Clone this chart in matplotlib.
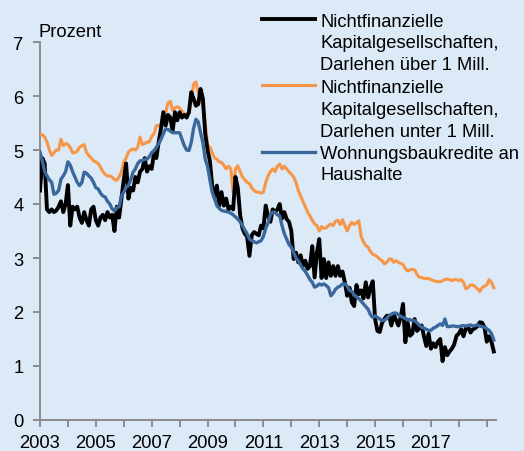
import numpy as np
import pandas as pd
import matplotlib
matplotlib.use("Agg")
import matplotlib.pyplot as plt
from matplotlib.lines import Line2D

plt.rcParams['font.family'] = ['Liberation Sans', 'DejaVu Sans']

start = '2003-01-01'
n_months = 196

black_over_1m = [
    4.25, 4.85, 4.75, 3.90, 3.85, 3.90, 3.85, 3.88, 3.95, 4.05, 3.85, 4.00,  # 2003
    4.35, 3.60, 3.95, 3.90, 3.95, 3.75, 3.65, 3.85, 3.70, 3.60, 3.90, 3.95,  # 2004
    3.70, 3.60, 3.75, 3.80, 3.70, 3.85, 3.75, 3.80, 3.50, 3.95, 3.75, 4.10,  # 2005
    4.45, 4.75, 4.10, 4.30, 4.25, 4.50, 4.40, 4.60, 4.65, 4.85, 4.60, 4.70,  # 2006
    4.65, 4.95, 4.85, 5.15, 5.40, 5.70, 5.45, 5.65, 5.60, 5.35, 5.70, 5.55,  # 2007
    5.70, 5.60, 5.65, 5.60, 5.70, 6.07, 5.95, 5.82, 5.85, 6.13, 5.95, 5.30,  # 2008
    5.00, 4.80, 4.34, 4.15, 4.34, 3.97, 4.22, 3.97, 4.10, 3.90, 3.95, 3.90,  # 2009
    4.50, 4.30, 3.80, 3.55, 3.45, 3.40, 3.04, 3.42, 3.48, 3.45, 3.42, 3.60,  # 2010
    3.55, 3.97, 3.78, 3.67, 3.90, 3.85, 3.90, 4.00, 3.73, 3.85, 3.72, 3.67,  # 2011
    3.50, 2.98, 3.10, 2.92, 3.05, 2.85, 2.95, 2.80, 2.85, 3.22, 2.64, 3.10,  # 2012
    3.35, 2.63, 2.98, 2.63, 2.92, 2.67, 2.85, 2.67, 2.85, 2.67, 2.75, 2.55,  # 2013
    2.30, 2.45, 2.18, 2.11, 2.50, 2.33, 2.40, 2.25, 2.55, 2.27, 2.45, 2.57,  # 2014
    1.87, 1.65, 1.63, 1.80, 1.87, 1.93, 1.93, 1.75, 1.96, 1.85, 1.75, 1.90,  # 2015
    2.15, 1.44, 1.80, 1.56, 1.60, 1.87, 1.65, 1.70, 1.75, 1.55, 1.37, 1.60,  # 2016
    1.32, 1.42, 1.35, 1.45, 1.50, 1.09, 1.35, 1.20, 1.27, 1.32, 1.40, 1.56,  # 2017
    1.60, 1.68, 1.55, 1.70, 1.72, 1.62, 1.68, 1.70, 1.74, 1.81, 1.80, 1.72,  # 2018
    1.45, 1.55, 1.45, 1.27,                                                  # 2019
]

orange_under_1m = [
    5.30, 5.28, 5.24, 5.15, 5.00, 4.90, 4.95, 5.00, 5.00, 5.20, 5.08, 5.12,  # 2003
    5.10, 5.05, 4.95, 4.95, 4.98, 5.05, 5.08, 5.10, 4.95, 4.90, 4.85, 4.80,  # 2004
    4.78, 4.75, 4.68, 4.60, 4.55, 4.52, 4.52, 4.50, 4.45, 4.44, 4.50, 4.60,  # 2005
    4.78, 4.85, 4.96, 5.00, 5.02, 5.00, 5.05, 5.24, 5.10, 5.12, 5.15, 5.15,  # 2006
    5.25, 5.30, 5.45, 5.45, 5.48, 5.55, 5.70, 5.87, 5.90, 5.73, 5.78, 5.80,  # 2007
    5.78, 5.72, 5.67, 5.65, 5.70, 5.90, 6.22, 6.26, 6.06, 5.95, 5.82, 5.50,  # 2008
    5.10, 5.05, 4.95, 4.85, 4.83, 4.78, 4.77, 4.72, 4.65, 4.70, 4.65, 4.22,  # 2009
    4.65, 4.71, 4.60, 4.50, 4.45, 4.40, 4.38, 4.30, 4.25, 4.22, 4.22, 4.20,  # 2010
    4.22, 4.40, 4.52, 4.60, 4.65, 4.60, 4.70, 4.74, 4.65, 4.70, 4.65, 4.60,  # 2011
    4.55, 4.50, 4.40, 4.25, 4.15, 4.05, 3.95, 3.85, 3.78, 3.70, 3.63, 3.60,  # 2012
    3.50, 3.58, 3.55, 3.56, 3.60, 3.63, 3.60, 3.68, 3.70, 3.62, 3.71, 3.60,  # 2013
    3.50, 3.60, 3.66, 3.62, 3.65, 3.69, 3.40, 3.30, 3.23, 3.20, 3.12, 3.07,  # 2014
    3.05, 3.02, 2.98, 2.95, 2.89, 2.92, 2.98, 2.98, 2.92, 2.95, 2.92, 2.90,  # 2015
    2.88, 2.80, 2.76, 2.78, 2.79, 2.78, 2.70, 2.64, 2.64, 2.62, 2.62, 2.62,  # 2016
    2.60, 2.58, 2.57, 2.56, 2.56, 2.58, 2.60, 2.61, 2.60, 2.58, 2.60, 2.60,  # 2017
    2.58, 2.60, 2.55, 2.43, 2.45, 2.50, 2.50, 2.47, 2.43, 2.38, 2.45, 2.48,  # 2018
    2.50, 2.60, 2.55, 2.45,                                                  # 2019
]

blue_housing = [
    4.96, 4.80, 4.60, 4.52, 4.45, 4.40, 4.18, 4.20, 4.25, 4.46, 4.52, 4.60,  # 2003
    4.78, 4.72, 4.60, 4.50, 4.40, 4.34, 4.40, 4.59, 4.57, 4.52, 4.48, 4.40,  # 2004
    4.30, 4.28, 4.20, 4.15, 4.13, 4.05, 4.00, 3.91, 3.87, 3.93, 3.95, 4.15,  # 2005
    4.22, 4.31, 4.34, 4.45, 4.59, 4.65, 4.75, 4.80, 4.80, 4.83, 4.83, 4.88,  # 2006
    4.95, 4.99, 5.05, 5.12, 5.20, 5.30, 5.39, 5.38, 5.35, 5.32, 5.32, 5.32,  # 2007
    5.32, 5.20, 5.08, 5.00, 4.99, 5.14, 5.40, 5.57, 5.52, 5.32, 5.14, 4.83,  # 2008
    4.70, 4.45, 4.22, 4.10, 3.97, 3.92, 3.88, 3.87, 3.86, 3.85, 3.83, 3.80,  # 2009
    3.76, 3.72, 3.67, 3.60, 3.52, 3.45, 3.35, 3.32, 3.30, 3.28, 3.30, 3.32,  # 2010
    3.40, 3.55, 3.65, 3.80, 3.85, 3.85, 3.80, 3.78, 3.60, 3.45, 3.35, 3.25,  # 2011
    3.20, 3.10, 3.00, 2.95, 2.87, 2.80, 2.75, 2.68, 2.60, 2.55, 2.46, 2.48,  # 2012
    2.52, 2.50, 2.52, 2.49, 2.45, 2.30, 2.35, 2.42, 2.46, 2.48, 2.52, 2.52,  # 2013
    2.48, 2.40, 2.38, 2.32, 2.28, 2.25, 2.20, 2.15, 2.10, 2.05, 1.95, 1.90,  # 2014
    1.93, 1.90, 1.87, 1.84, 1.85, 1.88, 1.93, 1.96, 1.98, 1.98, 1.95, 1.92,  # 2015
    1.90, 1.88, 1.86, 1.86, 1.84, 1.84, 1.80, 1.76, 1.72, 1.70, 1.68, 1.66,  # 2016
    1.66, 1.70, 1.72, 1.75, 1.78, 1.75, 1.87, 1.73, 1.73, 1.74, 1.74, 1.73,  # 2017
    1.73, 1.74, 1.75, 1.74, 1.75, 1.76, 1.74, 1.75, 1.76, 1.74, 1.73, 1.72,  # 2018
    1.69, 1.66, 1.60, 1.48,                                                  # 2019
]

labels = [
    "Nichtfinanzielle\nKapitalgesellschaften,\nDarlehen über 1 Mill.",
    "Nichtfinanzielle\nKapitalgesellschaften,\nDarlehen unter 1 Mill.",
    "Wohnungsbaukredite an\nHaushalte",
]
colors = ["#000000", "#f79646", "#3a679c"]
widths = [2.8, 2.2, 2.4]

year_ticks = list(range(2003, 2020))
year_labels = [str(y) if (y % 2 == 1 and y <= 2017) else "" for y in year_ticks]

dates = pd.date_range(start, periods=n_months, freq='MS')
x = dates.year + (dates.month - 1) / 12.0

BG = "#dce9f7"
FS = 13.2
W, H = 524, 452
fig = plt.figure(figsize=(W / 100, H / 100), dpi=100, facecolor=BG)
ax = fig.add_axes([40 / W, 1 - 421 / H, (496 - 40) / W, (421 - 43) / H])
ax.set_facecolor(BG)

series = [black_over_1m, orange_under_1m, blue_housing]
order = [1, 0, 2]
for i in order:
    ax.plot(x, series[i], color=colors[i], lw=widths[i], solid_joinstyle='round', zorder=3 + (i == 2))

ax.set_xlim(2003, 2019.33)
ax.set_ylim(0, 7)
ax.set_xticks(year_ticks)
ax.set_xticklabels(year_labels)
ax.set_yticks(range(0, 8))
for s in ['top', 'right']:
    ax.spines[s].set_visible(False)
for s in ['left', 'bottom']:
    ax.spines[s].set_color('#8c8c8c')
    ax.spines[s].set_linewidth(1.4)
ax.tick_params(axis='both', colors='#8c8c8c', width=1.4, length=5, labelcolor='black', labelsize=FS)
ax.tick_params(axis='y', pad=7)
ax.tick_params(axis='x', pad=5)

fig.text(39 / W, 1 - 37.3 / H, "Prozent", fontsize=FS, va='baseline', ha='left')

# legend
text_x = 320 / W
baselines = [[26.7, 48.3, 70.0], [92.7, 115.0, 136.7], [159.3, 180.0]]
handle_y = [20.0, 86.0, 153.3]
for i in range(3):
    fig.add_artist(Line2D([262 / W, 315 / W], [1 - handle_y[i] / H] * 2,
                          color=colors[i], lw=widths[i], transform=fig.transFigure))
    for j, line in enumerate(labels[i].split("\n")):
        fig.text(text_x, 1 - baselines[i][j] / H, line, fontsize=FS, va='baseline', ha='left')

fig.savefig("out.png", dpi=100, facecolor=BG)
